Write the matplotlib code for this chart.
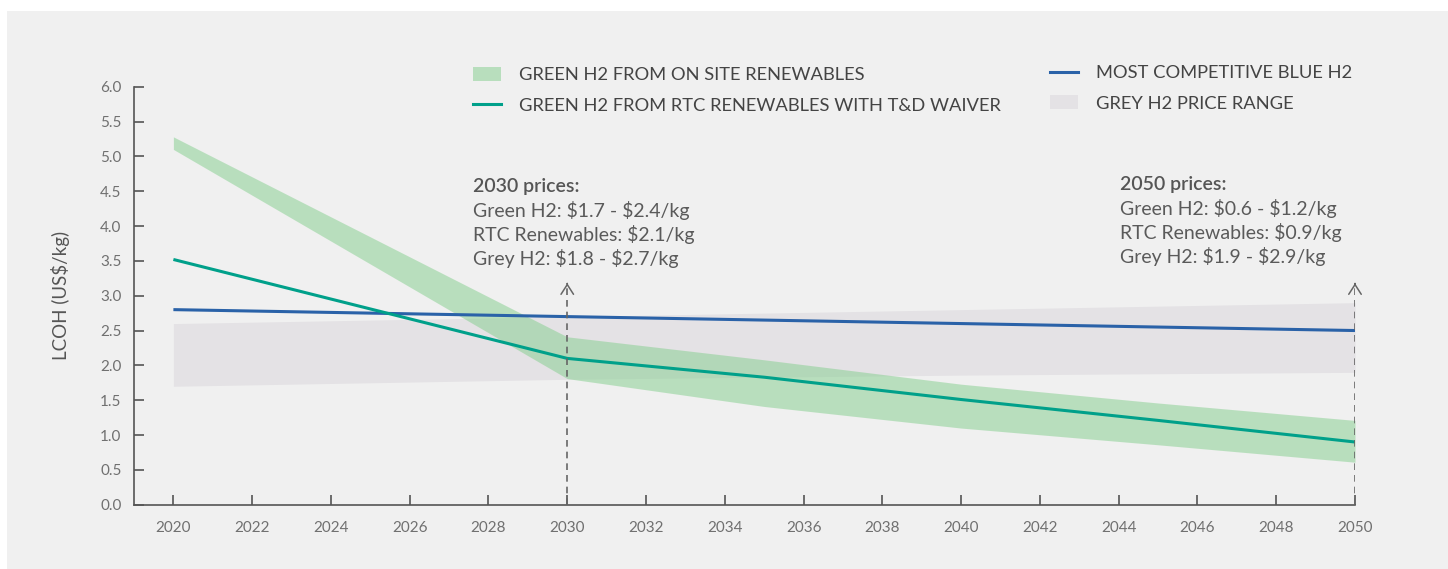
import matplotlib
matplotlib.use('Agg')
import matplotlib.pyplot as plt
from matplotlib.patches import Rectangle, Patch
from matplotlib.lines import Line2D

plt.rcParams['font.family'] = ['Lato', 'DejaVu Sans']

# data
years = [2020, 2030, 2035, 2040, 2045, 2050]
onsite_low = [5.10, 1.81, 1.41, 1.10, 0.86, 0.61]
onsite_high = [5.28, 2.41, 2.08, 1.73, 1.46, 1.21]
rtc_years = [2020, 2030, 2035, 2040, 2045, 2050]
rtc = [3.52, 2.10, 1.83, 1.51, 1.21, 0.90]
blue_years = [2020, 2030, 2040, 2050]
blue = [2.80, 2.70, 2.60, 2.50]
grey_years = [2020, 2030, 2040, 2050]
grey_low = [1.70, 1.80, 1.86, 1.90]
grey_high = [2.60, 2.70, 2.80, 2.90]
marker_years = [2030, 2050]
marker_top = 3.18

xticks = list(range(2020, 2051, 2))
yticks = [i * 0.5 for i in range(13)]

labels = ['GREEN H2 FROM ON SITE RENEWABLES',
          'GREEN H2 FROM RTC RENEWABLES WITH T&D WAIVER',
          'MOST COMPETITIVE BLUE H2',
          'GREY H2 PRICE RANGE']

notes = {
    2030: ('2030 prices:', ['Green H2: $1.7 - $2.4/kg', 'RTC Renewables: $2.1/kg', 'Grey H2: $1.8 - $2.7/kg']),
    2050: ('2050 prices:', ['Green H2: $0.6 - $1.2/kg', 'RTC Renewables: $0.9/kg', 'Grey H2: $1.9 - $2.9/kg']),
}
note_x = {2030: 2027.6, 2050: 2044.03}
note_y = {2030: 4.57, 2050: 4.60}

green_fill = '#82ce8c'
teal = '#00a08a'
blue_c = '#2a62a8'
grey_fill = '#e4e2e5'
bg = '#f0f0f0'
axis_c = '#555555'

fig = plt.figure(figsize=(14.48, 5.69), dpi=100, facecolor='white')
fig.patches.append(Rectangle((7 / 1448, 0), 1, (569 - 11) / 569, transform=fig.transFigure,
                             facecolor=bg, edgecolor='none', zorder=-10))
ax = fig.add_axes([134 / 1448, 64.3 / 569, (1355 - 134) / 1448, 418 / 569])
ax.set_facecolor('none')

ax.fill_between(grey_years, grey_low, grey_high, color=grey_fill, lw=0, zorder=1)
ax.fill_between(years, onsite_low, onsite_high, color=green_fill, alpha=0.5, lw=0, zorder=2)
ax.plot(blue_years, blue, color=blue_c, lw=2.2, zorder=4, solid_capstyle='butt')
ax.plot(rtc_years, rtc, color=teal, lw=2.2, zorder=4, solid_capstyle='butt')

for yr in marker_years:
    ax.plot([yr, yr], [0, marker_top - 0.04], color='#666666', lw=1.2,
            linestyle=(0, (4, 3)), zorder=5)
    ax.annotate('', xy=(yr, marker_top), xytext=(yr, marker_top - 0.05),
                arrowprops=dict(arrowstyle='->, head_length=0.7, head_width=0.45',
                                color='#666666', lw=1.1, mutation_scale=10),
                zorder=5)
    title, lines = notes[yr]
    ax.text(note_x[yr], note_y[yr], title, fontsize=14, fontweight='semibold',
            color='#555555', va='center', ha='left', parse_math=False)
    for i, line in enumerate(lines):
        ax.text(note_x[yr], note_y[yr] - (i + 1) * 0.345, line, fontsize=14,
                color='#5a5a5a', va='center', ha='left', parse_math=False)

ax.set_xlim(2019, 2050)
ax.set_ylim(0, 6)
ax.set_xticks(xticks)
ax.set_yticks(yticks)
ax.set_yticklabels([f'{v:.1f}' for v in yticks])
ax.tick_params(direction='in', length=7, width=1.2, color=axis_c,
               labelcolor='#707070', labelsize=11)
ax.tick_params(axis='y', pad=9)
ax.tick_params(axis='x', pad=12)
for s in ['top', 'right']:
    ax.spines[s].set_visible(False)
for s in ['left', 'bottom']:
    ax.spines[s].set_color(axis_c)
    ax.spines[s].set_linewidth(1.2)
ax.set_ylabel('LCOH (US$/kg)', fontsize=13.5, color='#555555', labelpad=22)

h1 = [Patch(facecolor=green_fill, alpha=0.5, edgecolor='none'),
      Line2D([], [], color=teal, lw=2.2)]
h2 = [Line2D([], [], color=blue_c, lw=2.2),
      Patch(facecolor=grey_fill, edgecolor='none')]
common = dict(frameon=False, fontsize=13.2, handlelength=1.5, handleheight=0.8,
              handletextpad=1.0, labelspacing=0.75, labelcolor='#444444',
              loc='upper left', borderpad=0, borderaxespad=0)
leg1 = fig.legend(h1, labels[:2], bbox_to_anchor=(473 / 1448, 1 - 67 / 569), **common)
leg2 = fig.legend(h2, labels[2:], bbox_to_anchor=(1050 / 1448, 1 - 65 / 569), **common)

fig.savefig('out.png', dpi=100, facecolor='white')
